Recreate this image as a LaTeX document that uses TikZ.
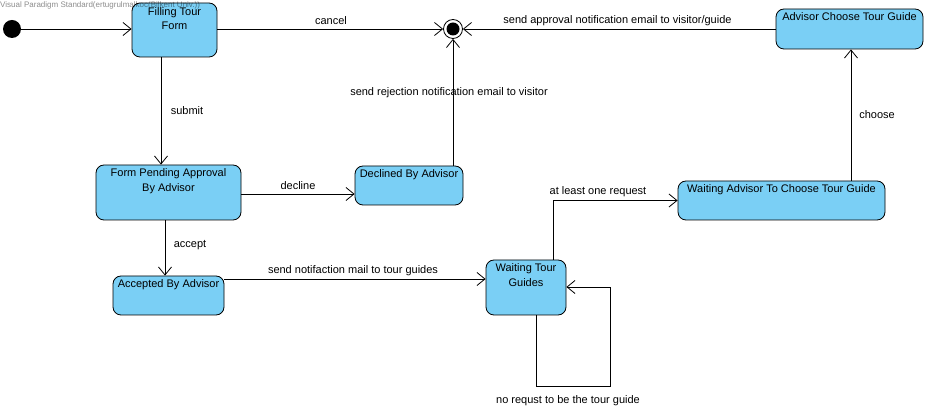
\documentclass[tikz,border=0pt]{standalone}
\usepackage{fontspec}
\setmainfont{Liberation Sans}
\usetikzlibrary{arrows.meta,calc}
\definecolor{stfill}{RGB}{122,207,245}
\begin{document}
\begin{tikzpicture}[x=1pt,y=-1pt,
  font=\fontsize{11}{14.5}\selectfont,
  state/.style={draw, line width=0.8pt, rounded corners=8pt, fill=stfill, inner sep=0pt},
  stxt/.style={anchor=north, align=center, inner sep=0pt},
  tr/.style={draw, line width=0.8pt, -{Straight Barb[length=8pt,width=13pt]}},
  lbl/.style={inner sep=0pt}]
\useasboundingbox[fill=white] (0,0) rectangle (927,411);

% states
\node[state, minimum width=85pt, minimum height=54pt] (fill) at (174.5,30) {};
\node[state, minimum width=147pt, minimum height=40pt] (adv) at (849.5,29) {};
\node[state, minimum width=145pt, minimum height=55pt] (pend) at (168.5,192.5) {};
\node[state, minimum width=108pt, minimum height=39pt] (decl) at (409,185.5) {};
\node[state, minimum width=207pt, minimum height=39pt] (wadv) at (781.5,200.5) {};
\node[state, minimum width=111pt, minimum height=39pt] (acc) at (168.5,295.5) {};
\node[state, minimum width=80pt, minimum height=55pt] (wtg) at (526,287.5) {};

% state texts
\node[stxt] (tfill) at ($(fill.north)+(0,4.5)$) {Filling Tour\\Form};
\node[stxt] (tadv) at ($(adv.north)+(0,4)$) {Advisor Choose Tour Guide};
\node[stxt] (tpend) at ($(pend.north)+(0,4)$) {Form Pending Approval\\By Advisor};
\node[stxt] (tdecl) at ($(decl.north)+(0,4)$) {Declined By Advisor};
\node[stxt] (twadv) at ($(wadv.north)+(0,4)$) {Waiting Advisor To Choose Tour Guide};
\node[stxt] (tacc) at ($(acc.north)+(0,4)$) {Accepted By Advisor};
\node[stxt] (twtg) at ($(wtg.north)+(0,4)$) {Waiting Tour\\Guides};

% initial and final
\node[circle, fill=black, minimum size=18pt, inner sep=0pt] (init) at (12,29) {};
\node[circle, draw, line width=0.8pt, minimum size=19pt, inner sep=0pt] (fin) at (453,29) {};
\node[circle, fill=black, minimum size=13pt, inner sep=0pt] (fincore) at (453,29) {};

% transitions
\draw[tr] (init.east) -- (fill.west |- init);
\draw[tr] (fill.east |- fin) -- (fin);
\draw[tr] (adv.west) -- (fin);
\draw[tr] (fill.south -| 161,0) -- (pend.north -| 161,0);
\draw[tr] (pend.east |- 0,194) -- (decl.west |- 0,194);
\draw[tr] (decl.north -| fin) -- (fin);
\draw[tr] (pend.south -| 165,0) -- (acc.north -| 165,0);
\draw[tr] (acc.east |- 0,279) -- (wtg.west |- 0,279);
\draw[tr] (wtg.north -| 553,0) |- (wadv.west);
\draw[tr] (wadv.north -| 851,0) -- (adv.south -| 851,0);
\coordinate (loopA) at (536,386);
\coordinate (loopB) at (610,287);
\draw[tr] (wtg.south -| loopA) -- (loopA) -| (loopB) -- (wtg.east |- loopB);

% labels
\node[lbl] (lcancel) at (331,21) {cancel};
\node[lbl] (lappr) at (617.5,21) {send approval notification email to visitor/guide};
\node[lbl] (lsubmit) at (187,111) {submit};
\node[lbl] (lrej) at (449,93) {send rejection notification email to visitor};
\node[lbl] (ldecl) at (298,186) {decline};
\node[lbl] (lacc) at (190,245) {accept};
\node[lbl] (lnotif) at (353,271) {send notifaction mail to tour guides};
\node[lbl] (lone) at (598,192) {at least one request};
\node[lbl] (lchoose) at (877,115) {choose};
\node[lbl] (lnoreq) at (568,401) {no requst to be the tour guide};

% watermark
\node[anchor=west, inner sep=0pt, font=\fontsize{8}{9}\selectfont, text=black, text opacity=0.45] (wm) at (0,5) {Visual Paradigm Standard(ertugrulmalkoc(Bilkent Univ.))};
\end{tikzpicture}
\end{document}
